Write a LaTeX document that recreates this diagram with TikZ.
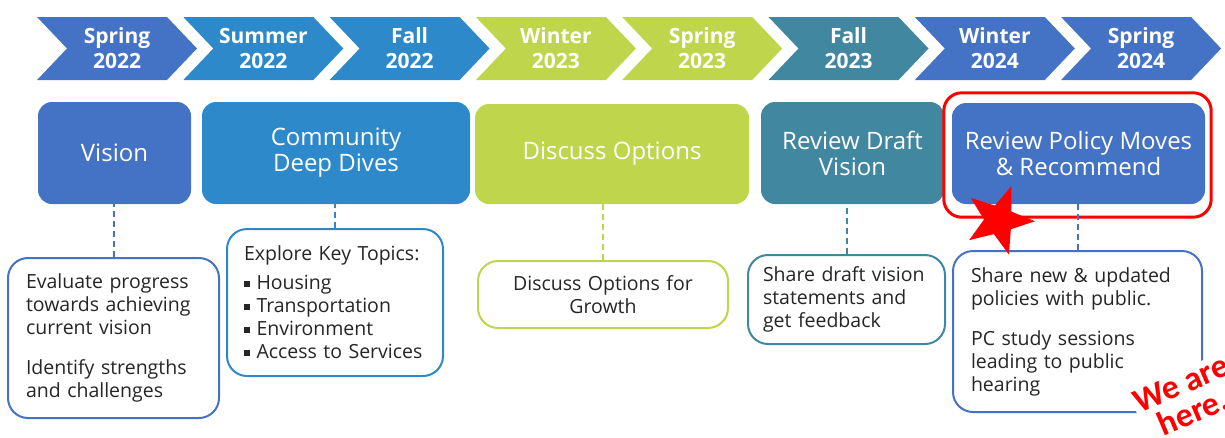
\documentclass[tikz,border=0pt]{standalone}
\usepackage{fontspec}
\setmainfont{Open Sans}
\newfontfamily\handfont{Carlito}
\usetikzlibrary{shapes.geometric}

\definecolor{springblue}{HTML}{4472C4}
\definecolor{summerblue}{HTML}{2E89CA}
\definecolor{greenlime}{HTML}{BFD54B}
\definecolor{fallteal}{HTML}{41879F}
\definecolor{bodytext}{HTML}{262626}

\tikzset{
  season/.style={text=white, font=\bfseries\fontsize{21}{25}\selectfont, align=center},
  phase/.style={rounded corners=14pt, text=white, font=\fontsize{24}{26}\selectfont,
                align=center, inner sep=0pt},
  task/.style={draw, line width=2pt, rounded corners=20pt, fill=white, text=bodytext,
               font=\fontsize{19.5}{23}\selectfont, inner sep=0pt},
  link/.style={line width=2pt, dash pattern=on 6pt off 4pt}
}
\newcommand{\sqbullet}{\rule[3pt]{5.5pt}{5.5pt}\hspace{7pt}}

\begin{document}
\begin{tikzpicture}[x=1pt,y=-1pt]
  \useasboundingbox (0,0) rectangle (1225,437);
  \clip (0,0) rectangle (1225,437);

  % chevrons along the top
  \foreach \i/\sname/\yr/\col in {0/Spring/2022/springblue, 1/Summer/2022/summerblue,
      2/Fall/2022/summerblue, 3/Winter/2023/greenlime, 4/Spring/2023/greenlime,
      5/Fall/2023/fallteal, 6/Winter/2024/springblue, 7/Spring/2024/springblue}{
    \pgfmathsetmacro\lx{37+146.3*\i}
    \fill[\col] (\lx,17) -- ++(130,0) -- ++(30,31.5) -- ++(-30,31.5) -- ++(-130,0)
                -- ++(30,-31.5) -- cycle;
    \node[season] (season\i) at (\lx+80,48.5) {\sname\\\yr};
  }

  % phase boxes
  \node[phase, fill=springblue, minimum width=153pt, minimum height=102pt] (vision)
       at (114.5,153) {Vision};
  \node[phase, fill=summerblue, minimum width=268pt, minimum height=102pt] (dives)
       at (336,153) {Community\\Deep Dives};
  \node[phase, fill=greenlime, minimum width=274pt, minimum height=100pt] (options)
       at (612,154) {Discuss Options};
  \node[phase, fill=fallteal, minimum width=183pt, minimum height=102pt] (draft)
       at (852.5,153) {Review Draft\\Vision};
  \node[phase, fill=springblue, minimum width=253pt, minimum height=101pt] (policy)
       at (1078.5,153.5) {Review Policy Moves\\\& Recommend};

  % current phase is circled in red
  \draw[red, line width=3pt, rounded corners=18pt] ([shift={(-8,-10)}]policy.north west)
       rectangle ([shift={(6,13)}]policy.south east);

  % task boxes below
  \node[task, draw=springblue, minimum width=211pt, minimum height=160pt, text width=175pt,
        align=left] (evaluate) at (113.5,338)
       {Evaluate progress\\towards achieving\\current vision\\[17pt]Identify strengths\\and challenges};
  \node[task, draw=summerblue, minimum width=216pt, minimum height=147pt, text width=182pt,
        align=left] (topics) at (335,302.5)
       {Explore Key Topics:\\[6pt]\sqbullet Housing\\\sqbullet Transportation\\
        \sqbullet Environment\\\sqbullet Access to Services};
  \node[task, draw=greenlime, minimum width=250pt, minimum height=67pt, text width=210pt,
        align=center] (growth) at (603,294.5) {Discuss Options for\\Growth};
  \node[task, draw=fallteal, minimum width=197pt, minimum height=89pt, text width=167pt,
        align=left] (share) at (846.5,299.5)
       {Share draft vision\\statements and\\get feedback};
  \node[task, draw=springblue, minimum width=249pt, minimum height=161pt, text width=213pt,
        align=left] (public) at (1077.5,331.5)
       {Share new \& updated\\policies with public.\\[17pt]PC study sessions\\leading to public\\hearing};

  % dashed links from phase to task
  \draw[link, springblue] (evaluate.north) -- (evaluate.north |- vision.south);
  \draw[link, summerblue] (topics.north) -- (topics.north |- dives.south);
  \draw[link, greenlime] (growth.north) -- (growth.north |- options.south);
  \draw[link, fallteal] (share.north) -- (share.north |- draft.south);
  \draw[link, springblue] (public.north) -- (public.north |- policy.south);

  % we are here
  \node[star, star points=5, star point ratio=2.4, fill=red, minimum size=72pt,
        inner sep=0pt, rotate=-20] (star) at (999,220) {};
  \node[text=red, fill=white, inner sep=2pt, rotate=23, align=center,
        font=\handfont\bfseries\fontsize{34}{31}\selectfont] (here) at (1187,398)
       {We are\\here.};
\end{tikzpicture}
\end{document}
